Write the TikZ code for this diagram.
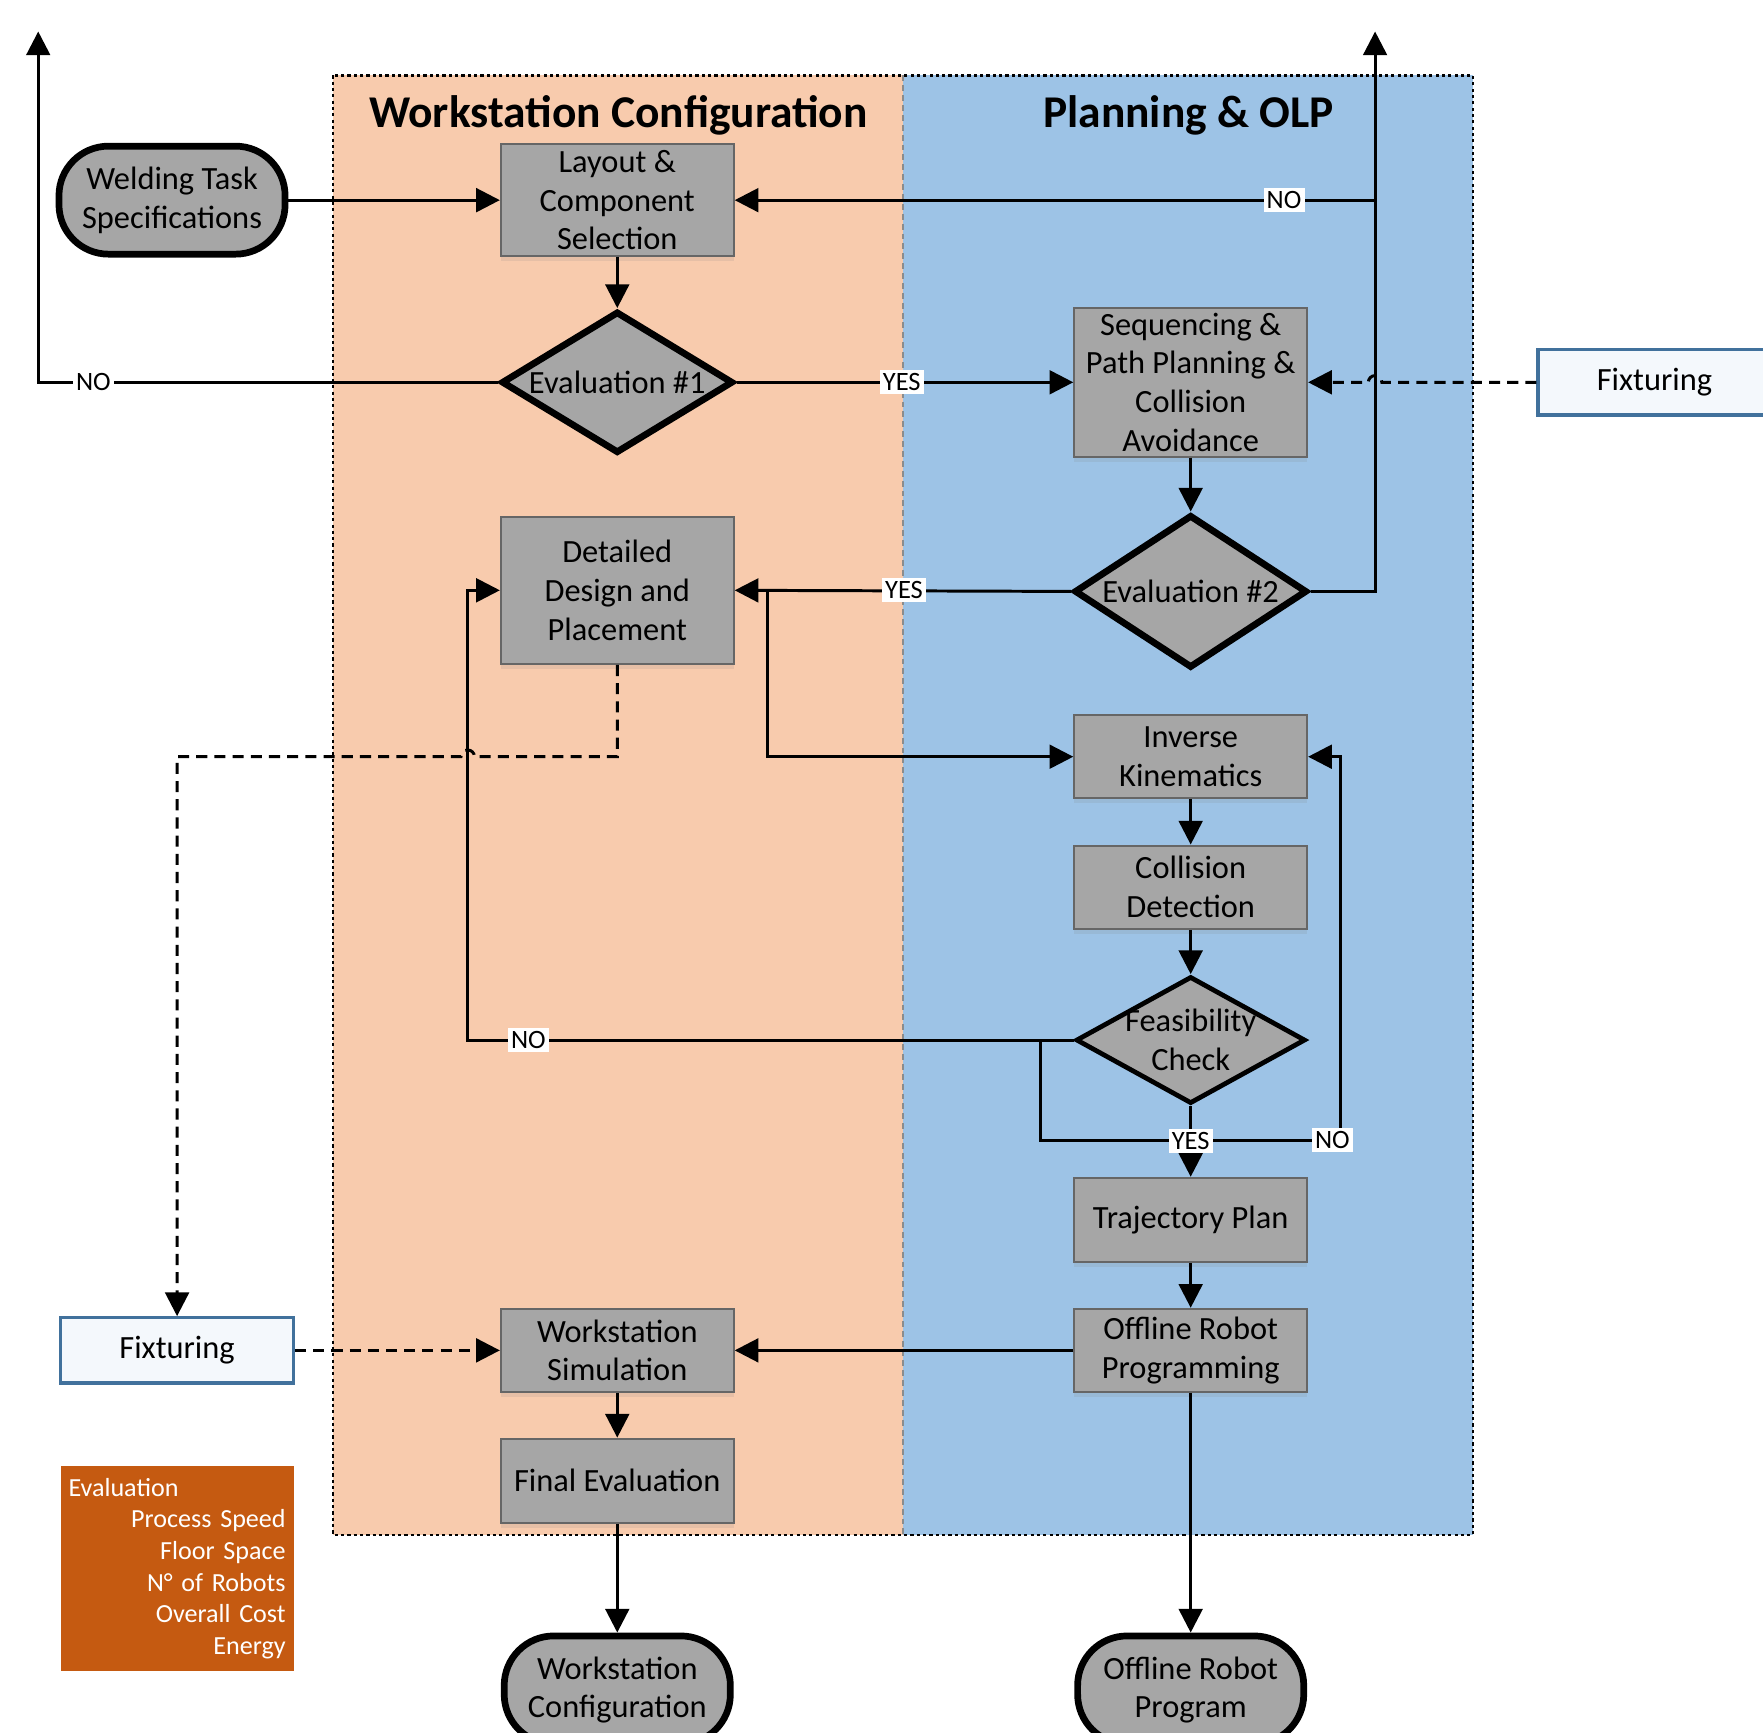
\documentclass[tikz,border=0pt]{standalone}
\usepackage{fontspec}
\setmainfont{Carlito}
\usetikzlibrary{shapes.geometric,arrows.meta,calc,shadows}
\definecolor{orangebg}{HTML}{F8CBAD}
\definecolor{bluebg}{HTML}{9DC3E6}
\definecolor{boxgray}{HTML}{A6A6A6}
\definecolor{boxline}{HTML}{666666}
\definecolor{fixline}{HTML}{41719C}
\definecolor{fixfill}{HTML}{F4F8FC}
\definecolor{legfill}{HTML}{C55A11}
\newcommand\myboxfont{\fontsize{8.2}{9.8}\selectfont}
\newcommand\mytitlefont{\fontsize{11.5}{13}\selectfont\bfseries}
\newcommand\mylabelfont{\fontsize{6.7}{7.5}\selectfont}
\newcommand\mylegendfont{\fontsize{6.6}{8}\selectfont}
\tikzset{
  box/.style={rectangle, draw=boxline, line width=0.5pt, fill=boxgray, minimum width=2.07cm,
    inner sep=1pt, align=center, font=\myboxfont,
    drop shadow={shadow xshift=0pt, shadow yshift=-1.3pt, opacity=0.15}},
  term/.style={rectangle, rounded corners=0.44cm, draw=black, line width=1.7pt, fill=boxgray,
    minimum width=2.01cm, minimum height=0.96cm, align=center, font=\myboxfont, inner sep=1pt},
  dec/.style={diamond, draw=black, line width=1.7pt, fill=boxgray, inner sep=0pt},
  dectext/.style={align=center, font=\myboxfont, inner sep=0pt},
  fixbox/.style={rectangle, draw=fixline, line width=0.8pt, fill=fixfill, minimum width=2.07cm,
    minimum height=0.58cm, font=\myboxfont},
  lbl/.style={fill=white, inner sep=0.8pt, font=\mylabelfont},
  conn/.style={line width=0.75pt, -{Triangle[length=6pt,width=6pt]}},
  dconn/.style={conn, dash pattern=on 2.8pt off 1.8pt},
  panelborder/.style={line width=0.6pt, dash pattern=on 0.8pt off 0.8pt},
}
\begin{document}
\begin{tikzpicture}[x=0.01cm,y=0.01cm]
\useasboundingbox (0,0) rectangle (1568,-1541);
\clip (0,0) rectangle (1568,-1541);
% panels
\fill[orangebg] (296,-67) rectangle (803,-1365);
\fill[bluebg] (803,-67) rectangle (1310,-1365);
\draw[panelborder] (296,-67) rectangle (1310,-1365);
\draw[black!45, line width=0.5pt, dash pattern=on 1.5pt off 1pt] (803,-67) -- (803,-1365);
\node[font=\mytitlefont] (titleA) at (550,-103) {Workstation Configuration};
\node[font=\mytitlefont] (titleB) at (1057,-103) {Planning \& OLP};

% coordinates
\coordinate (upL) at (34,-28);
\coordinate (upR) at (1223,-28);
\coordinate (jNO) at (1223,-178);
\coordinate (jY2) at (683,-525);
\coordinate (jF) at (925,-925);
\coordinate (hopA) at (1223,-340);
\coordinate (hopB) at (416,-673);
\coordinate (loopNO) at (416,-925);
\coordinate (loopB) at (1192,-1014);

% nodes
\node[term] (weld) at (153,-178) {Welding Task\\Specifications};
\node[box, minimum height=0.99cm] (layout) at (549,-178) {Layout \&\\Component\\Selection};
\node[dec, minimum width=2.06cm, minimum height=1.26cm] (ev1) at (549,-340) {};
\node[dectext] (ev1t) at (ev1) {Evaluation \#1};
\node[box, minimum height=1.32cm] (seq) at (1059,-340) {Sequencing \&\\Path Planning \&\\Collision\\Avoidance};
\node[fixbox] (fixR) at (1471.5,-340) {Fixturing};
\node[dec, minimum width=2.07cm, minimum height=1.36cm] (ev2) at (1059,-526) {};
\node[dectext] (ev2t) at (ev2) {Evaluation \#2};
\node[box, minimum height=1.31cm] (design) at (549,-525) {Detailed\\Design and\\Placement};
\node[box, minimum height=0.74cm] (ik) at (1059,-673) {Inverse\\Kinematics};
\node[box, minimum height=0.74cm] (cd) at (1059,-789) {Collision\\Detection};
\node[dec, line width=1.2pt, minimum width=2.04cm, minimum height=1.13cm] (fc) at (1059,-925) {};
\node[dectext] (fct) at (fc) {Feasibility\\Check};
\node[box, minimum height=0.75cm] (tp) at (1059,-1085) {Trajectory Plan};
\node[box, minimum height=0.74cm] (orp) at (1059,-1201) {Offline Robot\\Programming};
\node[box, minimum height=0.74cm] (ws) at (549,-1201) {Workstation\\Simulation};
\node[box, minimum height=0.75cm] (fe) at (549,-1317) {Final Evaluation};
\node[term] (wc) at (549,-1503) {Workstation\\Configuration};
\node[term] (orprog) at (1059,-1503) {Offline Robot\\Program};
\node[fixbox] (fixL) at (157.5,-1201) {Fixturing};
\node[rectangle, fill=legfill, text=white, minimum width=2.07cm, minimum height=1.82cm,
  text width=1.93cm, align=right, inner sep=0pt, font=\mylegendfont] (leg) at (157.5,-1395)
  {\makebox[1.93cm][l]{Evaluation}\\Process Speed\\Floor Space\\N° of Robots\\Overall Cost\\Energy};

% connectors
\draw[conn] (weld.east) -- (layout.west);
\draw[conn] (layout.south) -- (ev1.north);
\draw[conn] (ev1.west) -| (upL);
\draw[conn] (ev1.east) -- (seq.west);
\draw[dconn] (fixR.west) -- ($(hopA)+(6,0)$) arc[start angle=0,end angle=180,radius=0.06cm] -- (seq.east);
\draw[conn] (seq.south) -- (ev2.north);
\draw[conn] (ev2.east) -| (upR);
\draw[conn] (jNO) -- (layout.east);
\draw[conn] (ev2.west) -- (design.east);
\draw[conn] (jY2) |- (ik.west);
\draw[dconn] (design.south) |- ($(hopB)+(6,0)$) arc[start angle=0,end angle=180,radius=0.06cm] -| (fixL.north);
\draw[conn] (ik.south) -- (cd.north);
\draw[conn] (cd.south) -- (fc.north);
\draw[conn] (fc.west) -- (loopNO) |- (design.west);
\draw[conn] (jF) |- (loopB) |- (ik.east);
\draw[conn] (fc.south) -- (tp.north);
\draw[conn] (tp.south) -- (orp.north);
\draw[conn] (orp.west) -- (ws.east);
\draw[dconn] (fixL.east) -- (ws.west);
\draw[conn] (ws.south) -- (fe.north);
\draw[conn] (fe.south) -- (wc.north);
\draw[conn] (orp.south) -- (orprog.north);

% labels
\node[lbl] (lnoA) at (83,-340) {NO};
\node[lbl] (lyesA) at (802,-340) {YES};
\node[lbl] (lnoB) at (1142,-178) {NO};
\node[lbl] (lyesB) at (804,-525) {YES};
\node[lbl] (lnoC) at (470,-925) {NO};
\node[lbl] (lyesC) at (1059,-1015) {YES};
\node[lbl] (lnoD) at (1185,-1014) {NO};
\end{tikzpicture}
\end{document}
